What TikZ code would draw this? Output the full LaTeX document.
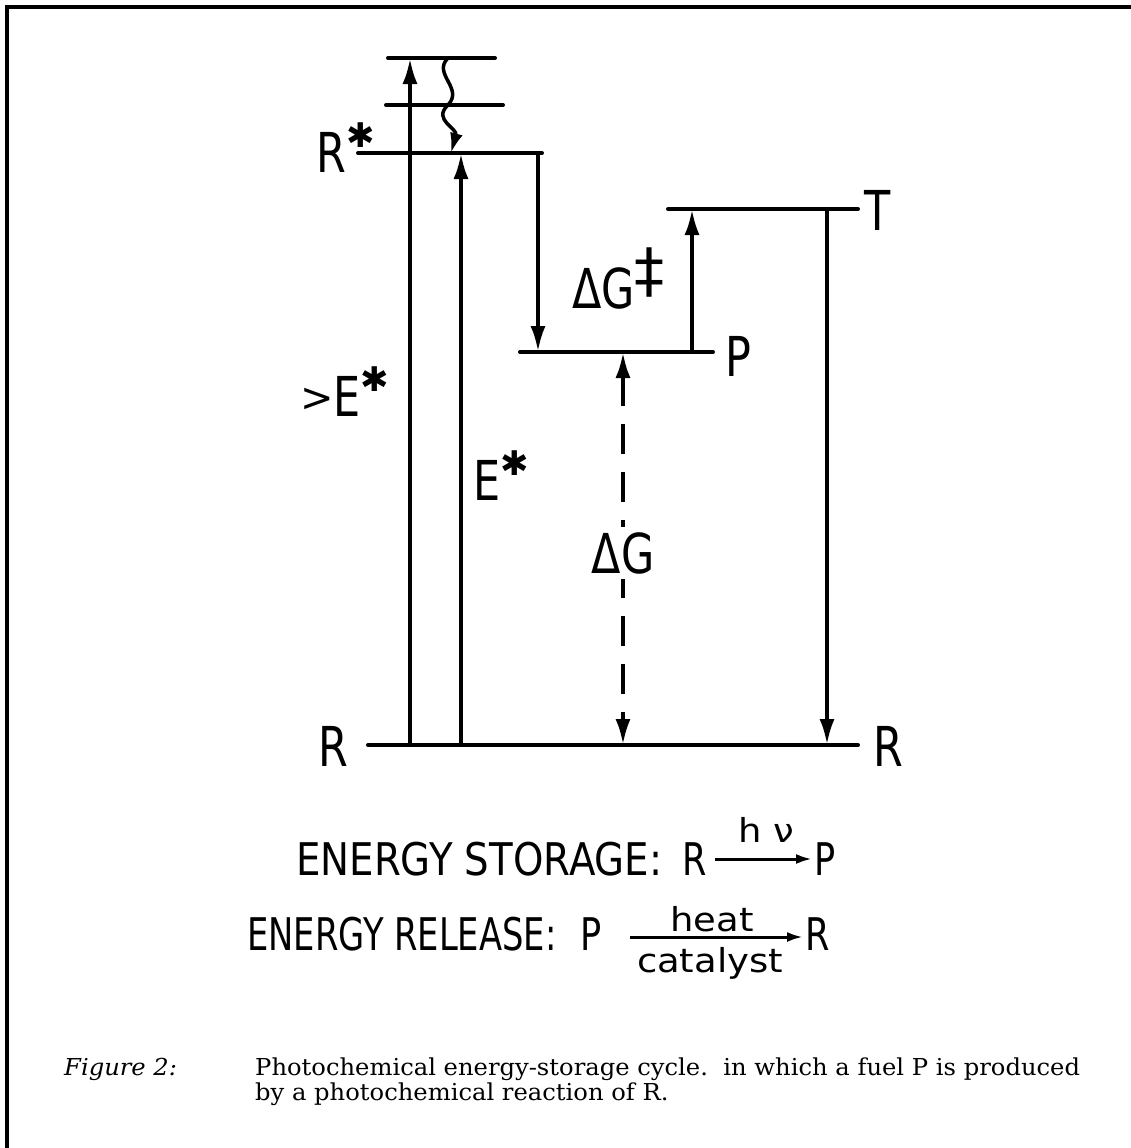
\documentclass[tikz,border=0pt]{standalone}
\usepackage{fontspec}
\newfontfamily\letterfont{DejaVu Sans}[FakeStretch=0.78]
\newfontfamily\widefont{DejaVu Sans}[FakeStretch=0.86]
\newfontfamily\narrowfont{DejaVu Sans}[FakeStretch=0.75]
\newfontfamily\lowfont{DejaVu Sans}[FakeStretch=1.12]
\newfontfamily\starfont{DejaVu Sans}
\newfontfamily\capserif{DejaVu Serif}[FakeStretch=1.04]
\usetikzlibrary{arrows.meta,positioning,calc}
\newcommand\lvlfont{\letterfont\fontsize{55pt}{55pt}\selectfont}
\newcommand\stfont{\widefont\fontsize{45pt}{45pt}\selectfont}
\newcommand\rlfont{\narrowfont\fontsize{45pt}{45pt}\selectfont}
\newcommand\eqfont{\letterfont\fontsize{45pt}{45pt}\selectfont}
\newcommand\smfont{\lowfont\fontsize{33pt}{33pt}\selectfont}
\newcommand\capfont{\capserif\fontsize{23.3pt}{25pt}\selectfont}
\newcommand\ststar{\raisebox{25pt}{\starfont\fontsize{34pt}{34pt}\selectfont ✱}}
\newcommand\dgcross{\raisebox{17pt}{\starfont\fontsize{60pt}{60pt}\selectfont ‡}}
\newcommand\gtsign{\raisebox{5pt}{\starfont\fontsize{40pt}{40pt}\selectfont >}}
\tikzset{
  frame/.style={line width=4pt},
  lvl/.style={line width=4pt,line cap=round},
  uparr/.style={line width=4pt,-{Latex[length=26pt,width=15pt]}},
  dasharr/.style={line width=4pt,dash pattern=on 30pt off 18pt,{Latex[length=26pt,width=15pt]}-{Latex[length=26pt,width=15pt]}},
  wavy/.style={line width=3.5pt,-{Latex[length=20pt,width=13pt]}},
  eqarr/.style={line width=3pt,-{Latex[length=16pt,width=10pt]}},
  lbl/.style={font=\lvlfont,inner sep=0pt},
  eq/.style={font=\eqfont,inner sep=0pt},
  sm/.style={font=\smfont,inner sep=0pt},
}
\begin{document}
\begin{tikzpicture}[x=1pt,y=-1pt]
  \useasboundingbox (0,0) rectangle (1131,1148);
  % frame
  \coordinate (fb) at (7,1148); \coordinate (fc) at (7,7); \coordinate (fr) at (1131,7);
  \draw[frame] (fb) -- (fc) -- (fr);
  % levels
  \coordinate (v1l) at (388,58);  \coordinate (v1r) at (495,58);
  \coordinate (v2l) at (386,105); \coordinate (v2r) at (503,105);
  \coordinate (Sl) at (358,153);  \coordinate (Sr) at (542,153);
  \coordinate (Tl) at (668,209);  \coordinate (Tr) at (858,209);
  \coordinate (Pl) at (520,352);  \coordinate (Pr) at (713,352);
  \coordinate (Rl) at (368,745);  \coordinate (Rr) at (858,745);
  \foreach \a/\b in {v1l/v1r,v2l/v2r,Sl/Sr,Tl/Tr,Pl/Pr,Rl/Rr}
    \draw[lvl] (\a) -- (\b);
  % transitions
  \coordinate (xa) at (410,0); \coordinate (xe) at (461,0);
  \coordinate (xs) at (538,0); \coordinate (xg) at (623,0);
  \coordinate (xt) at (692,0); \coordinate (xr) at (827,0);
  \draw[uparr] (xa |- Rl) -- (xa |- v1l);
  \draw[uparr] (xe |- Rl) -- (xe |- Sl);
  \draw[uparr] (xs |- Sl) -- (xs |- Pl);
  \draw[uparr] (xt |- Pl) -- (xt |- Tl);
  \draw[uparr] (xr |- Tl) -- (xr |- Rl);
  \draw[dasharr] (xg |- Pl) -- (xg |- Rl);
  % relaxation
  \coordinate (w0) at (448,58); \coordinate (w1) at (448,105); \coordinate (w2) at (451,153);
  \draw[wavy] (w0) .. controls (432,74) and (464,88) .. (w1)
              .. controls (432,120) and (458,128) .. (w2);
  % level labels
  \node[lbl,anchor=base west] (rs) at (316,172) {R\ststar};
  \node[lbl,anchor=base west] (rl) at (318,766) {R};
  \node[lbl,anchor=base west] (rr) at (873,766) {R};
  \node[lbl,anchor=base west] (tt) at (864,230) {T};
  \node[lbl,anchor=base west] (pp) at (725,376) {P};
  \node[lbl,anchor=base west] (ge) at (300,416) {\gtsign E\ststar};
  \node[lbl,anchor=base west] (ee) at (473,500) {E\ststar};
  \node[lbl,anchor=base west] (dgt) at (572,308) {ΔG\dgcross};
  \node[lbl,fill=white,inner sep=5pt] (dg) at (623,553) {ΔG};
  % storage
  \node[eq,font=\stfont,anchor=base west] (st) at (296,875) {ENERGY STORAGE:};
  \node[eq,anchor=base west] (sr) at (682,875) {R};
  \node[eq,anchor=base west] (sp) at (814,875) {P};
  \coordinate (sa) at (715,859); \coordinate (sb) at (812,859);
  \draw[eqarr] (sa) -- (sb);
  \node[sm,anchor=base] (hn) at (766,842) {h ν};
  % release
  \node[eq,font=\rlfont,anchor=base west] (rt) at (247,950) {ENERGY RELEASE:};
  \node[eq,anchor=base west] (rp) at (580,950) {P};
  \node[eq,anchor=base west] (rq) at (805,950) {R};
  \coordinate (ra) at (630,937); \coordinate (rb) at (803,937);
  \draw[eqarr] (ra) -- (rb);
  \node[sm,anchor=base] (ht) at (712,931) {heat};
  \node[sm,anchor=base] (ct) at (710,972) {catalyst};
  % caption
  \node[font=\capfont\itshape,anchor=base west,inner sep=0pt] (fig) at (64,1075) {Figure 2:};
  \node[font=\capfont,anchor=base west,inner sep=0pt] (cap1) at (255,1075)
    {Photochemical energy-storage cycle.\ \ in which a fuel P is produced};
  \node[font=\capfont,anchor=base west,inner sep=0pt] (cap2) at (255,1100)
    {by a photochemical reaction of R.};
\end{tikzpicture}
\end{document}
